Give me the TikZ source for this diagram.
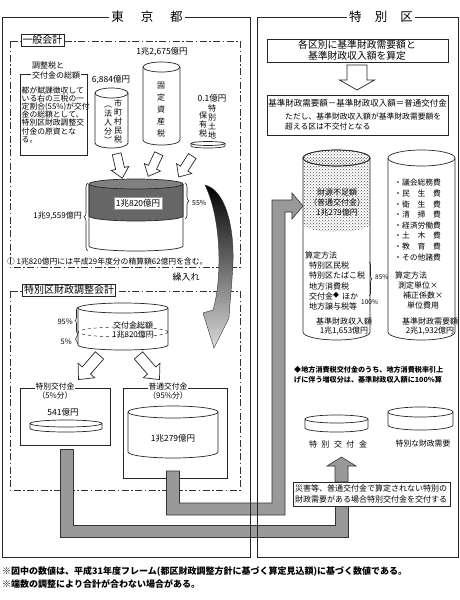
\documentclass[tikz,border=0pt]{standalone}
\usepackage{fontspec}
\setmainfont{Noto Sans CJK JP}
\usetikzlibrary{positioning,decorations.pathreplacing,patterns}
\tikzset{
  frame line/.style={draw=black!85, line width=0.9pt},
  account line/.style={draw=black!80, line width=0.9pt, dash pattern=on 7pt off 2.5pt on 1.5pt off 2.5pt},
  plain box/.style={draw=black!85, line width=0.7pt},
  drum line/.style={draw=black!85, line width=0.7pt},
  body text/.style={font=\fontsize{8}{10}\selectfont, inner sep=0pt},
  title text/.style={font=\fontsize{12.5}{14}\selectfont, fill=white, inner sep=2pt},
  tag box/.style={draw=black!85, line width=0.7pt, fill=white, font=\fontsize{10}{11}\selectfont, inner sep=1.5pt},
  hollow line/.style={draw=black!85, fill=white, line width=0.7pt, line join=miter},
  flow bar/.style={draw=black!80, fill=black!40, line width=0.6pt, line join=miter},
  brace line/.style={decorate, decoration={brace, amplitude=4pt}, draw=black!85, line width=0.6pt},
  note text/.style={font=\bfseries\fontsize{7.1}{10}\selectfont, inner sep=0pt}
}
\newcommand{\drum}[5]{%
  \draw[drum line, fill=white] (#1-#2,#3) -- (#1-#2,#4) arc[start angle=180, end angle=0, x radius=#2, y radius=#5] -- (#1+#2,#3);
  \draw[drum line, fill=white] (#1,#3) ellipse[x radius=#2, y radius=#5];}
\newcommand{\fatarrow}[7]{%
  \draw[hollow line, shift={(#1,#2)}, rotate=#3] (-#4/2,-#5) -- (#4/2-#7,-#5) -- (#4/2-#7,-#6) -- (#4/2,0)
    -- (#4/2-#7,#6) -- (#4/2-#7,#5) -- (-#4/2,#5) -- cycle;}

\begin{document}
\begin{tikzpicture}[x=1pt, y=-1pt]
\useasboundingbox (0,0) rectangle (460,600);

\draw[account line] (10,41) rectangle (240,267);
\draw[account line] (10,291) rectangle (240,490);
\node[tag box] (ippan) at (42.5,40) {一般会計};
\node[tag box] (chosei) at (69,290) {特別区財政調整会計};

\draw[plain box] (20,74) rectangle (87,155);
\node[body text, fill=white, inner sep=0.8pt, align=left, anchor=west] (sogaku title) at (31,70) {調整税と\\交付金の総額};
\node[body text, align=left, anchor=west, font=\fontsize{7.8}{8.2}\selectfont] (sogaku text) at (21.5,114.6)
  {都が賦課徴収して\\いる右の三税の一\\定割合(55\%)が交付\\金の総額として、\\特別区財政調整交\\付金の原資とな\\る。};

\drum{111.5}{16.5}{93}{143}{5}
\drum{161.5}{18.5}{67}{140}{5}
\drum{208}{17}{143.5}{146}{2}
\node[body text, font=\fontsize{8.5}{10}\selectfont] (shichoson val) at (111,80) {6,884億円};
\node[body text, font=\fontsize{8.5}{10}\selectfont] (kotei val) at (162,52) {1兆2,675億円};
\node[body text, font=\fontsize{8.5}{10}\selectfont] (tochi val) at (212,98) {0.1億円};
\node[body text, align=center, font=\fontsize{8}{9}\selectfont] (shichoson) at (118,121) {市\\町\\村\\民\\税};
\node[body text, align=center, font=\fontsize{8}{9}\selectfont] (hojin) at (108,125) {︵\\法\\人\\分\\︶};
\node[body text, align=center, font=\fontsize{8}{12}\selectfont] (kotei) at (161,110) {固\\定\\資\\産\\税};
\node[body text, align=center, font=\fontsize{8}{9}\selectfont] (tochi) at (212,122) {特\\別\\土\\地};
\node[body text, align=center, font=\fontsize{8}{9}\selectfont] (hoyu) at (203,124) {保\\有\\税};

\fatarrow{119.5}{166}{-77}{25}{4.5}{9}{10}
\fatarrow{153.5}{165}{-115}{25}{4.5}{9}{10}
\fatarrow{185.5}{166.5}{-123}{25}{4.5}{9}{10}

\draw[drum line, fill=white] (89,184) -- (89,246) arc[start angle=180, end angle=0, x radius=47, y radius=5] -- (183,184);
\draw[drum line, fill=black!60] (89,184) -- (89,216) arc[start angle=180, end angle=0, x radius=47, y radius=5] -- (183,184);
\draw[drum line, fill=black!50] (136,184) ellipse[x radius=47, y radius=5];
\node[body text, fill=white, draw=black!40, inner sep=2pt, font=\fontsize{8.5}{10}\selectfont] (kofu share) at (138,203) {1兆820億円};
\draw[brace line] (88,251) -- (88,183);
\node[body text, anchor=east, font=\fontsize{8}{10}\selectfont] (total val) at (82,216) {1兆9,559億円};
\draw[brace line] (185,183) -- (185,219);
\node[body text, anchor=west, font=\fontsize{7}{8}\selectfont] (rate) at (192,203) {55\%};
\node[body text, anchor=west, font=\fontsize{7.8}{9}\selectfont] (seisan note) at (7,262) {○ 1兆820億円には平成29年度分の精算額62億円を含む。};

\shadedraw[top color=black, middle color=black!60, bottom color=black!15, draw=black!80, line width=0.4pt]
  (205,185) .. controls (225,190) and (234,225) .. (233,262) .. controls (232,285) and (230,300) .. (229,318)
  -- (214,348) -- (203,313) -- (213,310) .. controls (222,280) and (222,220) .. (205,185) -- cycle;
\node[body text, font=\fontsize{9}{10}\selectfont] (kuriire) at (186,277) {繰入れ};

\drum{123}{45}{308}{345}{5}
\draw[drum line, dashed, line width=0.5pt] (123,332) ellipse[x radius=45, y radius=5];
\node[body text, align=center, font=\fontsize{8}{9}\selectfont] (kofu total) at (133,330) {交付金総額\\1兆820億円};
\draw[brace line, decoration={amplitude=3pt}] (78,334) -- (78,307);
\draw[brace line, decoration={amplitude=2.5pt}] (78,344) -- (78,334);
\node[body text, anchor=east, font=\fontsize{7.5}{9}\selectfont] (rate95) at (73,322) {95\%};
\node[body text, anchor=east, font=\fontsize{7.5}{9}\selectfont] (rate5) at (72,342) {5\%};
\fatarrow{89}{367.5}{-131}{32}{5.5}{11}{12}
\fatarrow{149}{367.5}{-49}{32}{5.5}{11}{12}

\draw[plain box] (20,388) rectangle (110,445);
\draw[plain box] (123,388) rectangle (227,478);
\node[body text, fill=white, inner sep=0.8pt, align=center, font=\fontsize{7.8}{9}\selectfont] (toku label) at (55,391.5) {特別交付金\\（5\%分）};
\node[body text, fill=white, inner sep=0.8pt, align=center, font=\fontsize{7.8}{9}\selectfont] (futsu label) at (168,391.5) {普通交付金\\（95\%分）};
\node[body text, font=\fontsize{8.5}{10}\selectfont] (toku val) at (63,412) {541億円};
\drum{66}{36}{423.5}{428.5}{3.5}
\drum{173}{45}{412}{452}{6}
\node[body text, font=\fontsize{8.5}{10}\selectfont] (futsu val) at (173,438) {1兆279億円};

\draw[plain box] (267,39) rectangle (448,62);
\node[body text, align=center, font=\fontsize{9.8}{11}\selectfont] (santei) at (357,50.5) {各区別に基準財政需要額と\\基準財政収入額を算定};
\fatarrow{357}{77.5}{-90}{25}{10}{17.5}{10}
\draw[plain box] (267,95) rectangle (448,135);
\node[body text, font=\fontsize{8.5}{10}\selectfont] (formula) at (357.5,103) {基準財政需要額－基準財政収入額＝普通交付金};
\node[body text, align=left, anchor=west, font=\fontsize{7.8}{10}\selectfont] (tadashi) at (285,122) {ただし、基準財政収入額が基準財政需要額を\\超える区は不交付となる};

\drum{336.5}{33.5}{158}{332}{8}
\path[pattern=crosshatch dots, pattern color=black!70] (303,158) -- (303,224) arc[start angle=180, end angle=0, x radius=33.5, y radius=8] -- (370,158) -- cycle;
\draw[drum line, pattern=crosshatch dots, pattern color=black!70] (336.5,158) ellipse[x radius=33.5, y radius=8];
\node[body text, align=center, font=\fontsize{8}{10}\selectfont] (fusoku) at (337,202) {財源不足額\\（普通交付金）\\1兆279億円};
\node[body text, align=left, anchor=west, font=\fontsize{8}{10.3}\selectfont] (shunyu method) at (305,281)
  {算定方法\\\hspace*{4pt}特別区民税\\\hspace*{4pt}特別区たばこ税\\\hspace*{4pt}地方消費税\\\hspace*{4pt}交付金\raisebox{1.5pt}{\fontsize{6}{6}\selectfont◆}\hspace*{3pt}ほか\\\hspace*{4pt}地方譲与税等};
\draw[brace line, decoration={amplitude=3pt}] (369,262) -- (369,296);
\node[body text, anchor=west, font=\fontsize{6.5}{8}\selectfont] (rate85) at (375,277) {85\%};
\node[body text, anchor=west, font=\fontsize{6.5}{8}\selectfont] (rate100) at (361,302) {100\%};
\node[body text, align=center, font=\fontsize{8}{9}\selectfont] (shunyu) at (344,326) {基準財政収入額\\1兆1,653億円};

\drum{421.5}{33.5}{158}{332}{8}
\node[body text, align=left, anchor=west, font=\fontsize{7.8}{10.6}\selectfont] (juyo items) at (394,220)
  {・議会総務費\\・民　生　費\\・衛　生　費\\・清　掃　費\\・経済労働費\\・土　木　費\\・教　育　費\\・その他諸費};
\node[body text, align=left, anchor=west, font=\fontsize{8}{10}\selectfont] (juyo method) at (395,290)
  {算定方法\\\hspace*{3pt}測定単位×\\\hspace*{8pt}補正係数×\\\hspace*{12pt}単位費用};
\node[body text, align=center, font=\fontsize{8}{9}\selectfont] (juyo) at (430,326) {基準財政需要額\\2兆1,932億円};

\node[note text, align=left, anchor=west] (chiho note) at (294,375) {◆地方消費税交付金のうち、地方消費税率引上\\げに伴う増収分は、基準財政収入額に100\%算};

\drum{336.5}{31.5}{419}{428}{4}
\drum{420.5}{32.5}{412}{425}{5}
\node[body text] (toku right) at (338,444) {特\hspace{4.5pt}別\hspace{4.5pt}交\hspace{4.5pt}付\hspace{4.5pt}金};
\node[body text, font=\fontsize{7.8}{9}\selectfont] (tokubetsu juyo) at (423,444) {特別な財政需要};

\draw[flow bar] (166.5,471) -- (179.5,471) -- (179.5,503) -- (272,503) -- (272,200) -- (292,200) -- (292,193)
  -- (303,206) -- (292,219) -- (292,212) -- (285,212) -- (285,515) -- (166.5,515) -- cycle;
\draw[flow bar] (60,449) -- (73,449) -- (73,525.5) -- (335.5,525.5) -- (335.5,506) -- (348,506) -- (348,537.5) -- (60,537.5) -- cycle;
\draw[flow bar] (335,482) -- (335,466) -- (327,466) -- (341.5,457) -- (356,466) -- (348,466) -- (348,482) -- cycle;

\draw[plain box, fill=white] (293,482) rectangle (450,506);
\node[body text, align=left, anchor=west, font=\fontsize{8}{11}\selectfont] (saigai) at (295,494) {災害等、普通交付金で算定されない特別の\\財政需要がある場合特別交付金を交付する};

\draw[frame line] (2.5,17) rectangle (250,557);
\draw[frame line] (257,17) rectangle (458,557);
\node[title text] (tokyo) at (147,17) {東\hspace{1.35em}京\hspace{1.35em}都};
\node[title text] (ku) at (381,17) {特\hspace{1.05em}別\hspace{1.05em}区};

\node[note text, anchor=west, font=\bfseries\fontsize{9}{11}\selectfont] (foot a) at (2,571) {※図中の数値は、平成31年度フレーム(都区財政調整方針に基づく算定見込額)に基づく数値である。};
\node[note text, anchor=west, font=\bfseries\fontsize{9}{11}\selectfont] (foot b) [below=3pt of foot a.south west, anchor=north west] {※端数の調整により合計が合わない場合がある。};
\end{tikzpicture}
\end{document}
